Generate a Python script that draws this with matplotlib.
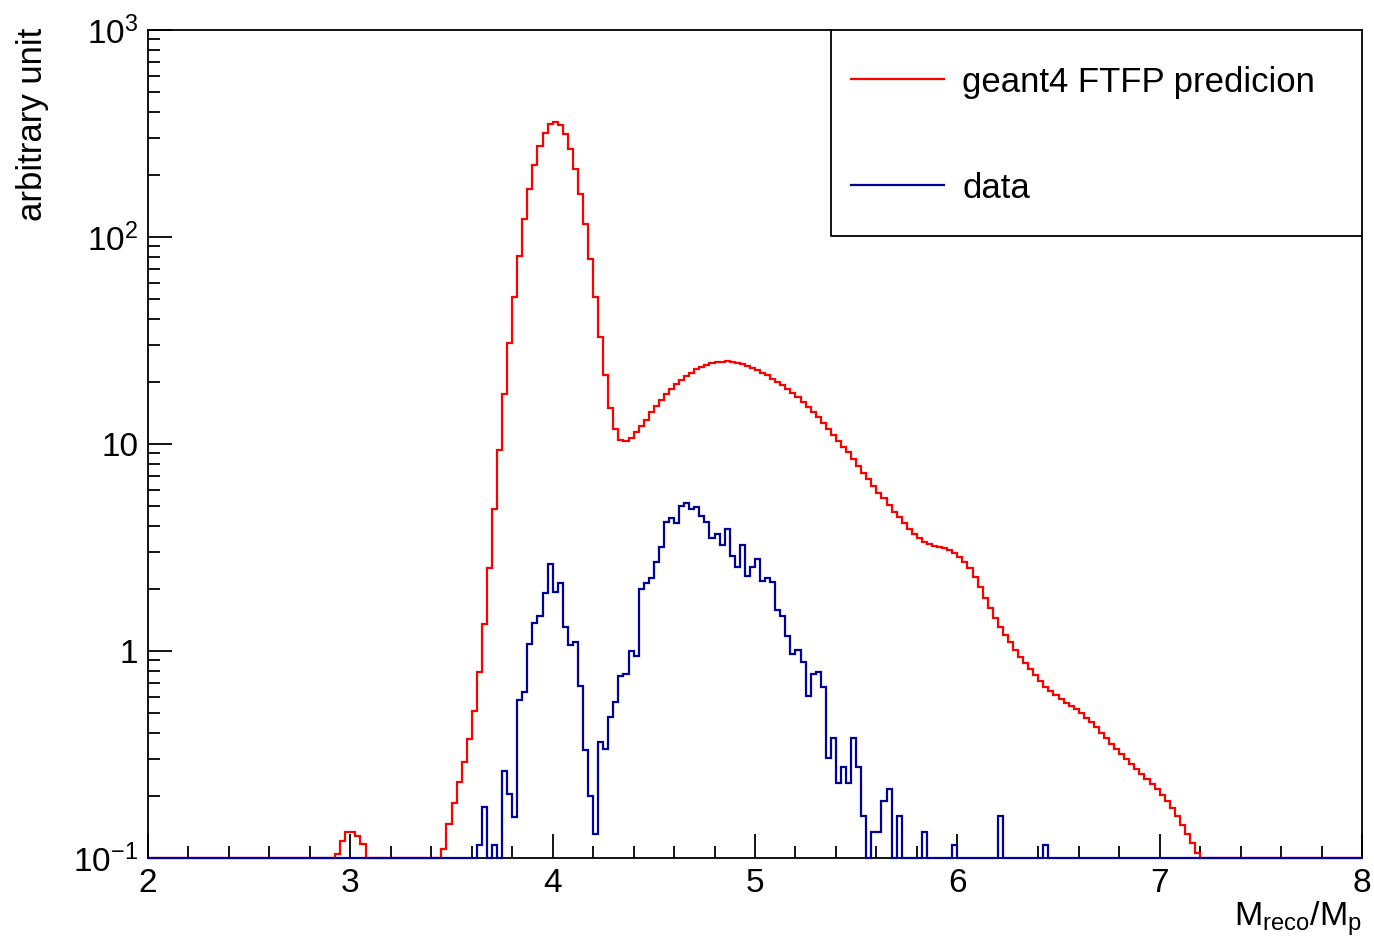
import numpy as np
import matplotlib
matplotlib.use("Agg")
import matplotlib.pyplot as plt
from matplotlib.ticker import LogLocator, NullFormatter, FixedLocator, FixedFormatter, MultipleLocator

plt.rcParams['font.family'] = ['Liberation Sans', 'DejaVu Sans']
plt.rcParams['mathtext.fontset'] = 'custom'
plt.rcParams['mathtext.rm'] = 'Liberation Sans'
plt.rcParams['mathtext.it'] = 'Liberation Sans:italic'

# ---------------- data (240 bins, 2 .. 8, width 0.025) ----------------
bin_edges = np.linspace(2, 8, 241)

sim_bump = [0.105, 0.121, 0.134, 0.134, 0.128, 0.117]
sim_main = [
    0.111, 0.146, 0.185, 0.232, 0.292, 0.374, 0.515, 0.79, 1.35, 2.52,
    4.87, 9.36, 17.4, 30.6, 51.5, 81.3, 122, 170, 223, 276,
    319, 350, 358, 349, 313, 266, 213, 162, 116, 78.5,
    51.3, 32.9, 21.5, 14.9, 11.8, 10.5, 10.3, 10.65, 11.4, 12.2,
    13.1, 14.2, 15.3, 16.3, 17.4, 18.4, 19.4, 20.4, 21.3, 22.1,
    23.0, 23.5, 24.1, 24.5, 24.8, 25.0, 25.1, 25.0, 24.7, 24.4,
    23.9, 23.4, 22.8, 22.1, 21.5, 20.7, 19.9, 19.2, 18.4, 17.6,
    16.8, 15.9, 15.1, 14.2, 13.5, 12.7, 11.8, 11.1, 10.3, 9.7,
    9.12, 8.44, 7.83, 7.27, 6.75, 6.27, 5.82, 5.47, 5.07, 4.71,
    4.42, 4.14, 3.89, 3.67, 3.50, 3.35, 3.28, 3.21, 3.17, 3.13,
    3.07, 2.98, 2.85, 2.70, 2.51, 2.29, 2.04, 1.80, 1.61, 1.45,
    1.31, 1.19, 1.10, 1.01, 0.939, 0.878, 0.819, 0.763, 0.714, 0.672,
    0.641, 0.613, 0.586, 0.563, 0.542, 0.523, 0.500, 0.476, 0.454, 0.431,
    0.403, 0.379, 0.355, 0.335, 0.318, 0.300, 0.284, 0.268, 0.254, 0.240,
    0.227, 0.215, 0.201, 0.189, 0.174, 0.160, 0.144, 0.131, 0.118, 0.106,
]
geant4_ftfp = [0] * 37 + sim_bump + [0] * 15 + sim_main + [0] * 32

data_main = [
    0.116, 0.176, 0, 0.116, 0, 0.264, 0.204, 0.158, 0.580, 0.636,
    1.08, 1.36, 1.48, 1.91, 2.62, 1.93, 2.14, 1.31, 1.07, 1.10,
    0.680, 0.333, 0.200, 0.131, 0.364, 0.335, 0.482, 0.569, 0.757, 0.774,
    1.00, 0.946, 1.99, 2.14, 2.25, 2.70, 3.17, 4.18, 4.38, 4.14,
    5.04, 5.17, 4.85, 4.95, 4.49, 4.18, 3.50, 3.67, 3.25, 3.87,
    2.88, 2.54, 3.25, 2.30, 2.55, 2.78, 2.19, 2.25, 2.16, 1.57,
    1.48, 1.18, 0.964, 1.01, 0.882, 0.608, 0.77, 0.79, 0.668, 0.303,
    0.379, 0.230, 0.276, 0.230, 0.379, 0.276, 0.160, 0, 0.133, 0.133,
    0.189, 0.215, 0, 0.160, 0, 0, 0, 0, 0.133, 0,
    0, 0, 0, 0, 0.116, 0, 0, 0, 0, 0,
    0, 0, 0, 0.160, 0, 0, 0, 0, 0, 0,
    0, 0, 0.116,
]
data_hist = [0] * 65 + data_main + [0] * 62

legend_labels = ["geant4 FTFP predicion", "data"]
x_label = r"$\mathregular{M_{reco}/M_{p}}$"
y_label = "arbitrary unit"
y_tick_values = [0.1, 1, 10, 100, 1000]
y_tick_labels = [r"$\mathregular{10^{-1}}$", "1", "10", r"$\mathregular{10^{2}}$", r"$\mathregular{10^{3}}$"]
x_tick_values = [2, 3, 4, 5, 6, 7, 8]

# ---------------- figure ----------------
W, H = 1374, 936
fig = plt.figure(figsize=(W / 100, H / 100), dpi=100)
ax = fig.add_axes([148 / W, 1 - 858 / H, (1362 - 148) / W, (858 - 30) / H])

ymin, ymax = 0.1, 1000
ax.set_yscale('log')
ax.set_xlim(2, 8)
ax.set_ylim(ymin, ymax)

red = '#ff0000'
blue = '#00009c'
lw = 1.6
ax.stairs(np.maximum(np.array(geant4_ftfp, float), ymin), bin_edges, baseline=None,
          color=red, lw=lw, clip_on=False, zorder=3)
ax.stairs(np.maximum(np.array(data_hist, float), ymin), bin_edges, baseline=None,
          color=blue, lw=lw, clip_on=False, zorder=4)

# ticks
ax.xaxis.set_major_locator(FixedLocator(x_tick_values))
ax.xaxis.set_minor_locator(MultipleLocator(0.2))
ax.yaxis.set_major_locator(FixedLocator(y_tick_values))
ax.yaxis.set_major_formatter(FixedFormatter(y_tick_labels))
ax.yaxis.set_minor_locator(LogLocator(base=10, subs=np.arange(2, 10)))
ax.yaxis.set_minor_formatter(NullFormatter())
ax.tick_params(which='both', direction='in', top=False, right=False, width=1.3, color='black')
ax.tick_params(which='major', length=17, labelsize=24, pad=7)
ax.tick_params(which='minor', length=8.5)
for s in ax.spines.values():
    s.set_linewidth(1.3)

# axis titles
ax.text(1.0, (858 - 900) / 828, x_label, transform=ax.transAxes, ha='right', va='top', fontsize=24.5)
ax.text((33 - 148) / 1214, 1.0 + 2 / 828, y_label, transform=ax.transAxes, ha='center', va='top',
        rotation=90, fontsize=25)

# legend box
def fx(px):
    return (px - 148) / 1214

def fy(py):
    return (858 - py) / 828

ax.plot([fx(831), fx(831), fx(1362)], [fy(30), fy(236), fy(236)], transform=ax.transAxes,
        color='black', lw=1.3, clip_on=False, zorder=5)
for lab, col, py in [(legend_labels[0], red, 79), (legend_labels[1], blue, 185)]:
    ax.plot([fx(851), fx(944)], [fy(py), fy(py)], transform=ax.transAxes, color=col, lw=lw,
            clip_on=False, zorder=5)
    ax.text(fx(962), fy(py), lab, transform=ax.transAxes, ha='left', va='center_baseline',
            fontsize=25)

fig.savefig('out.png', dpi=100)
